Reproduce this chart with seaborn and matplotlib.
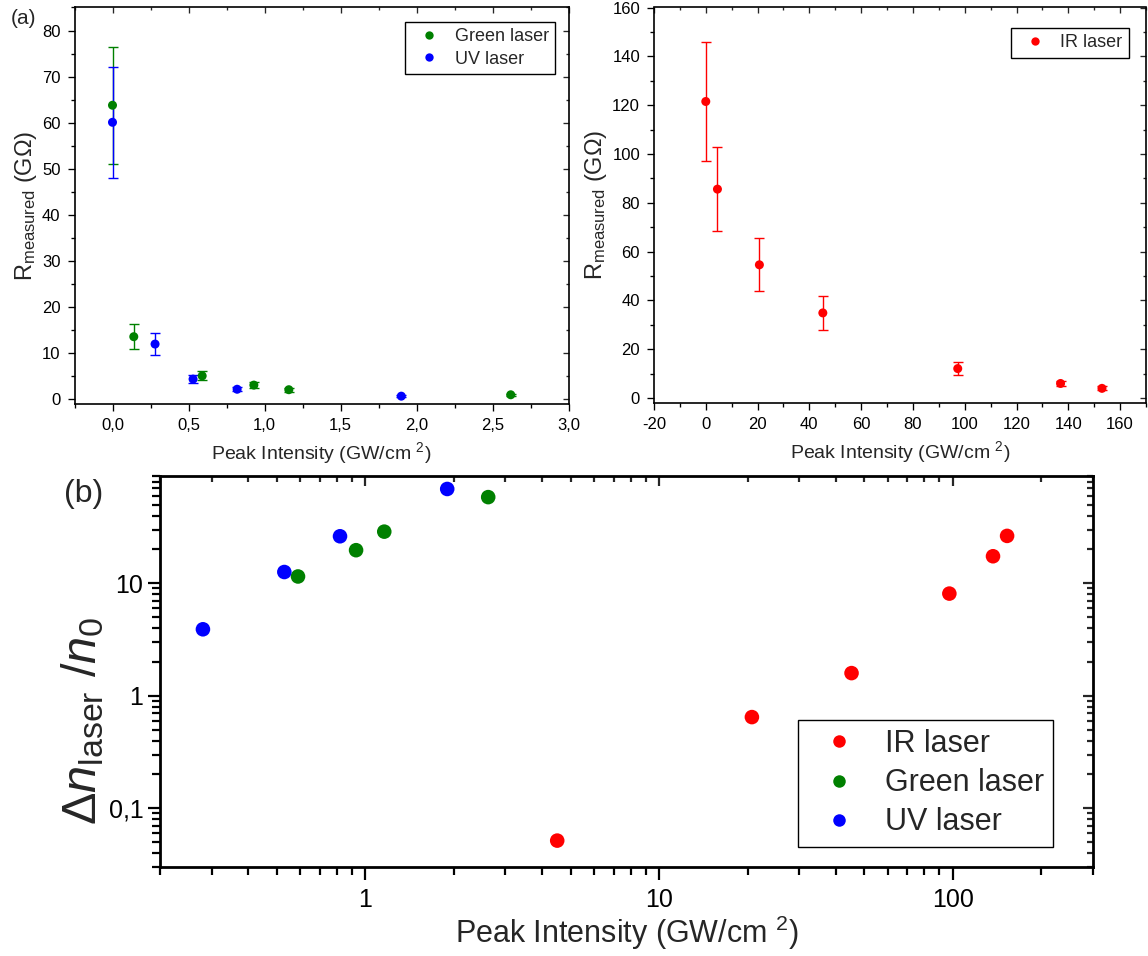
import matplotlib
matplotlib.use("Agg")
import matplotlib.pyplot as plt
from matplotlib.ticker import MultipleLocator, FixedLocator, LogLocator, FuncFormatter, NullFormatter
import numpy as np
import pandas as pd
import seaborn as sns

# ---- data ----
green_I = [0.0, 0.14, 0.59, 0.93, 1.16, 2.62]
green_R = [63.8, 13.6, 5.1, 3.1, 2.1, 1.0]
green_err = [12.7, 2.7, 1.0, 0.6, 0.4, 0.2]

uv_I = [0.0, 0.28, 0.53, 0.82, 1.90]
uv_R = [60.1, 12.0, 4.4, 2.2, 0.7]
uv_err = [12.0, 2.45, 0.8, 0.45, 0.2]

ir_I = [0.0, 4.5, 20.7, 45.2, 97.3, 137.0, 153.0]
ir_R = [121.5, 85.6, 54.6, 34.9, 12.1, 6.0, 4.0]
ir_err = [24.3, 17.2, 10.9, 7.0, 2.5, 1.2, 0.8]

# panel (b): relative carrier density change
dn_ir_I = [4.5, 20.7, 45.2, 97.3, 137.0, 153.0]
dn_ir = [0.0515, 0.646, 1.59, 8.1, 17.4, 26.4]
dn_green_I = [0.59, 0.93, 1.16, 2.62]
dn_green = [11.5, 19.7, 28.8, 58.4]
dn_uv_I = [0.28, 0.53, 0.82, 1.90]
dn_uv = [3.9, 12.6, 26.2, 69.0]

colors = {"IR laser": "#ff0000", "Green laser": "#008000", "UV laser": "#0000ff"}

sns.set_theme(style="ticks")
plt.rcParams["font.family"] = ["Liberation Sans", "DejaVu Sans"]
plt.rcParams["mathtext.fontset"] = "custom"
plt.rcParams["mathtext.rm"] = "Liberation Sans"
plt.rcParams["mathtext.it"] = "Liberation Sans:italic"
plt.rcParams["mathtext.bf"] = "Liberation Sans:bold"

W, H = 1148, 956
fig = plt.figure(figsize=(W / 100, H / 100), dpi=100)


def px_axes(left, top, right, bottom):
    return fig.add_axes([left / W, 1 - bottom / H, (right - left) / W, (bottom - top) / H])


def comma(fmt):
    return FuncFormatter(lambda v, p: fmt.format(v).replace(".", ","))


def style_axes(ax, lw, major, minor, size, pad):
    for s in ax.spines.values():
        s.set_visible(True)
        s.set_linewidth(lw)
        s.set_color("black")
    ax.tick_params(which="both", direction="out", bottom=True, left=True, top=False, right=False,
                   width=lw * 0.8, colors="black", labelsize=size, pad=pad)
    ax.tick_params(which="major", length=major)
    ax.tick_params(which="minor", length=minor)
    # inward ticks on top and right, no labels
    sec_x = ax.secondary_xaxis("top")
    sec_y = ax.secondary_yaxis("right")
    for sec, axis, lab in ((sec_x, ax.xaxis, "labeltop"), (sec_y, ax.yaxis, "labelright")):
        sec.set_ticks(list(axis.get_majorticklocs()))
        sec.set_ticks(list(axis.get_minorticklocs()), minor=True)
        sec.tick_params(which="both", direction="in", width=lw * 0.8, **{lab: False})
        sec.tick_params(which="major", length=major * 0.8)
        sec.tick_params(which="minor", length=minor * 0.8)
        for s in sec.spines.values():
            s.set_visible(False)


def redo_legend(ax, order, fontsize, msize, anchor, **kw):
    old = ax.get_legend()
    hmap = {t.get_text(): h for h, t in zip(old.legend_handles, old.get_texts())}
    handles = []
    for lab in order:
        h = hmap[lab]
        h.set_markersize(msize)
        handles.append(h)
    old.remove()
    leg = ax.legend(handles, order, loc="upper right", bbox_to_anchor=anchor, fontsize=fontsize,
                    frameon=True, fancybox=False, framealpha=1, edgecolor="black",
                    borderaxespad=0, **kw)
    leg.get_frame().set_linewidth(1.0)
    return leg


# ---------------- panel (a) left: green + UV ----------------
ax1 = px_axes(74.5, 7.5, 568.5, 404)
df1 = pd.DataFrame({
    "I": green_I + uv_I,
    "R": green_R + uv_R,
    "laser": ["Green laser"] * len(green_I) + ["UV laser"] * len(uv_I),
})
for I, R, e, lab in ((green_I, green_R, green_err, "Green laser"), (uv_I, uv_R, uv_err, "UV laser")):
    ax1.errorbar(I, R, yerr=e, fmt="none", ecolor=colors[lab], elinewidth=1, capsize=3.5, capthick=1, zorder=2)
sns.scatterplot(data=df1, x="I", y="R", hue="laser", palette=colors, s=42, edgecolor="none", ax=ax1, zorder=3)
ax1.set_xlim(-0.25, 3.0)
ax1.set_ylim(-1, 85)
ax1.xaxis.set_major_locator(MultipleLocator(0.5))
ax1.xaxis.set_minor_locator(MultipleLocator(0.25))
ax1.xaxis.set_major_formatter(comma("{:.1f}"))
ax1.yaxis.set_major_locator(MultipleLocator(10))
ax1.yaxis.set_minor_locator(MultipleLocator(5))
style_axes(ax1, 1.2, 5, 3, 12, 5)
ax1.set_xlabel("Peak Intensity (GW/cm $^{2}$)", fontsize=14, labelpad=5)
ax1.set_ylabel(r"R$_{\mathrm{measured}}$ (G$\Omega$)", fontsize=17, labelpad=2)
redo_legend(ax1, ["Green laser", "UV laser"], 13, 6, (0.973, 0.964),
            handlelength=2.0, handletextpad=0.4, borderpad=0.35, labelspacing=0.3)
fig.text(11 / W, 1 - 19 / H, "(a)", fontsize=15, va="center", ha="left")

# ---------------- panel (a) right: IR ----------------
ax2 = px_axes(654, 7.5, 1146, 403)
df2 = pd.DataFrame({"I": ir_I, "R": ir_R, "laser": ["IR laser"] * len(ir_I)})
ax2.errorbar(ir_I, ir_R, yerr=ir_err, fmt="none", ecolor=colors["IR laser"], elinewidth=1,
             capsize=3.5, capthick=1, zorder=2)
sns.scatterplot(data=df2, x="I", y="R", hue="laser", palette=colors, s=42, edgecolor="none", ax=ax2, zorder=3)
ax2.set_xlim(-20, 170)
ax2.set_ylim(-2, 160)
ax2.xaxis.set_major_locator(MultipleLocator(20))
ax2.xaxis.set_minor_locator(MultipleLocator(10))
ax2.yaxis.set_major_locator(MultipleLocator(20))
ax2.yaxis.set_minor_locator(MultipleLocator(10))
ax2.xaxis.set_major_formatter(FuncFormatter(lambda v, p: f"{v:.0f}"))
style_axes(ax2, 1.2, 5, 3, 12, 5)
ax2.set_xlabel("Peak Intensity (GW/cm $^{2}$)", fontsize=14, labelpad=5)
ax2.set_ylabel(r"R$_{\mathrm{measured}}$ (G$\Omega$)", fontsize=17, labelpad=2)
redo_legend(ax2, ["IR laser"], 13, 6, (0.965, 0.948),
            handlelength=2.0, handletextpad=0.4, borderpad=0.35)

# ---------------- panel (b): log-log ----------------
ax3 = px_axes(160, 476, 1093, 867)
df3 = pd.DataFrame({
    "I": dn_ir_I + dn_green_I + dn_uv_I,
    "dn": dn_ir + dn_green + dn_uv,
    "laser": ["IR laser"] * len(dn_ir_I) + ["Green laser"] * len(dn_green_I) + ["UV laser"] * len(dn_uv_I),
})
sns.scatterplot(data=df3, x="I", y="dn", hue="laser", palette=colors, s=110, edgecolor="none", ax=ax3, zorder=3)
ax3.set_xscale("log")
ax3.set_yscale("log")
ax3.set_xlim(0.2, 300)
ax3.set_ylim(0.03, 90)
ax3.xaxis.set_major_locator(FixedLocator([1, 10, 100]))
ax3.xaxis.set_minor_locator(LogLocator(base=10, subs=np.arange(2, 10), numticks=20))
ax3.yaxis.set_major_locator(FixedLocator([0.1, 1, 10]))
ax3.yaxis.set_minor_locator(LogLocator(base=10, subs=np.arange(2, 10), numticks=20))
ax3.xaxis.set_major_formatter(FuncFormatter(lambda v, p: f"{v:g}"))
ax3.yaxis.set_major_formatter(FuncFormatter(lambda v, p: f"{v:g}".replace(".", ",")))
ax3.xaxis.set_minor_formatter(NullFormatter())
ax3.yaxis.set_minor_formatter(NullFormatter())
style_axes(ax3, 2.0, 9, 5.5, 18, 3)
ax3.tick_params(axis="x", which="both", pad=6)
ax3.set_xlabel("Peak Intensity (GW/cm $^{2}$)", fontsize=22, labelpad=1)
ax3.set_ylabel("\u0394$\\mathit{n}_{\\mathrm{laser}}$ /$\\mathit{n}_{0}$", fontsize=35, labelpad=0)
ax3.yaxis.set_label_coords(-0.058, 0.375)
redo_legend(ax3, ["IR laser", "Green laser", "UV laser"], 22, 9, (0.957, 0.376),
            handlelength=2.1, handletextpad=0.45, borderpad=0.3, labelspacing=0.3)
fig.text(64 / W, 1 - 494 / H, "(b)", fontsize=23, va="center", ha="left")

fig.savefig("out.png", dpi=100)
